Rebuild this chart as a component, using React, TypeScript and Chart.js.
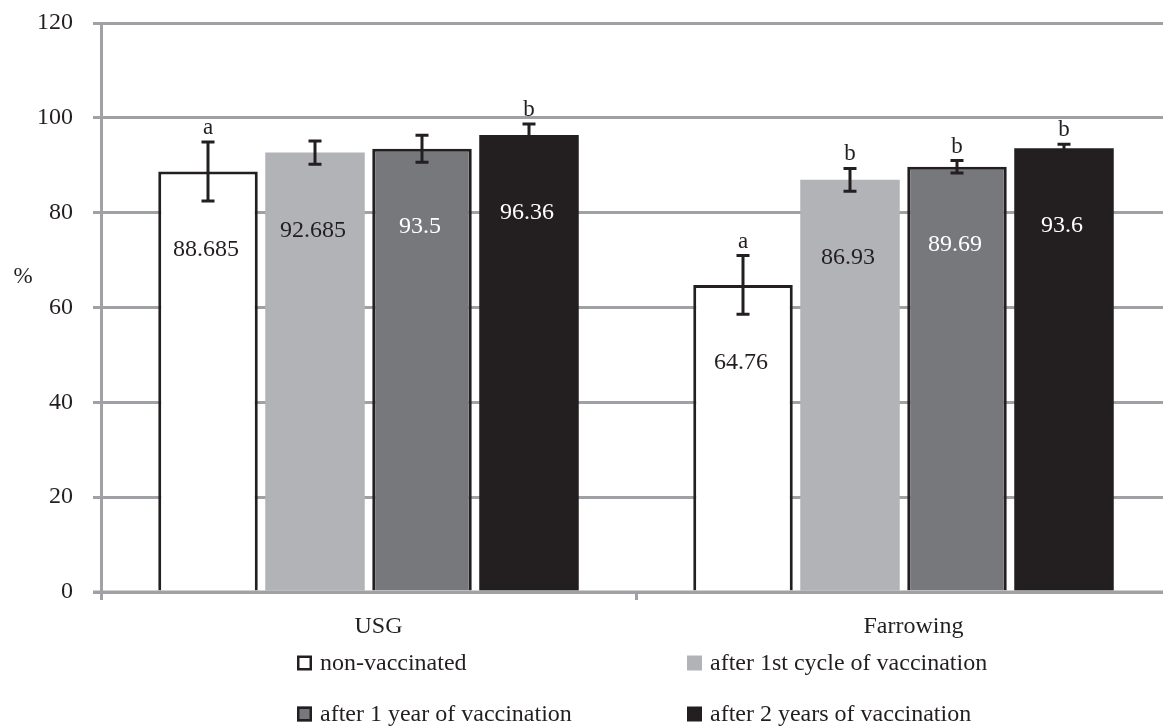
import React, { useEffect, useRef } from "react";
import { Chart, registerables } from "chart.js";

Chart.register(...registerables);

const categories = ["USG", "Farrowing"];
const seriesLabels = [
  "non-vaccinated",
  "after 1st cycle of vaccination",
  "after 1 year of vaccination",
  "after 2 years of vaccination",
];
const nonVaccinated = [88.685, 64.76];
const after1stCycle = [92.685, 86.93];
const after1Year = [93.5, 89.69];
const after2Years = [96.36, 93.6];

const errNonVaccinated = [6.2, 6.2];
const errAfter1stCycle = [2.45, 2.4];
const errAfter1Year = [2.85, 1.3];
const errAfter2Years = [2.35, 0.85];

const sigNonVaccinated = ["a", "a"];
const sigAfter1stCycle = ["", "b"];
const sigAfter1Year = ["", "b"];
const sigAfter2Years = ["b", "b"];

const yMin = 0;
const yMax = 120;
const yStep = 20;

const INK = "#231f20";
const GRID = "#a0a1a4";
const FONT = "'Liberation Serif', 'Times New Roman', serif";

const fills = ["#ffffff", "#b2b3b7", "#77787c", INK];
const borders = [INK, "#b2b3b7", INK, INK];
const borderWidths = [3, 0, 3, 0];
const labelColors = [INK, INK, "#ffffff", "#ffffff"];

const values = [nonVaccinated, after1stCycle, after1Year, after2Years];
const errors = [errNonVaccinated, errAfter1stCycle, errAfter1Year, errAfter2Years];
const sigs = [sigNonVaccinated, sigAfter1stCycle, sigAfter1Year, sigAfter2Years];

const overlayPlugin = {
  id: "overlay",
  afterDatasetsDraw(chart: any) {
    const ctx = chart.ctx;
    const y = chart.scales.y;
    const area = chart.chartArea;
    ctx.save();
    ctx.strokeStyle = GRID;
    ctx.lineWidth = 3;
    ctx.beginPath();
    ctx.moveTo(area.left - 8, y.getPixelForValue(0));
    ctx.lineTo(area.right, y.getPixelForValue(0));
    ctx.stroke();

    chart.data.datasets.forEach((ds: any, i: number) => {
      const meta = chart.getDatasetMeta(i);
      meta.data.forEach((el: any, j: number) => {
        const v = values[i][j];
        const e = errors[i][j];
        const x = el.x;
        ctx.fillStyle = labelColors[i];
        ctx.font = `24px ${FONT}`;
        ctx.textAlign = "center";
        ctx.textBaseline = "middle";
        ctx.fillText(String(v), x - 2, el.y + 78);
        const yt = y.getPixelForValue(v + e);
        const yb = y.getPixelForValue(v - e);
        ctx.strokeStyle = INK;
        ctx.lineWidth = 3;
        ctx.beginPath();
        ctx.moveTo(x, yt);
        ctx.lineTo(x, yb);
        ctx.moveTo(x - 6.5, yt);
        ctx.lineTo(x + 6.5, yt);
        ctx.moveTo(x - 6.5, yb);
        ctx.lineTo(x + 6.5, yb);
        ctx.stroke();
        const s = sigs[i][j];
        if (s) {
          ctx.fillStyle = INK;
          ctx.font = `23px ${FONT}`;
          ctx.textAlign = "center";
          ctx.textBaseline = "alphabetic";
          ctx.fillText(s, x, yt - 8);
        }
      });
    });
    ctx.restore();
  },
  afterDraw(chart: any) {
    const ctx = chart.ctx;
    ctx.save();
    ctx.fillStyle = INK;
    ctx.font = `23px ${FONT}`;
    ctx.textAlign = "center";
    ctx.textBaseline = "middle";
    ctx.fillText("%", 23, 277);
    const cols = [297, 687];
    const rows = [663, 714];
    chart.data.datasets.forEach((ds: any, i: number) => {
      const cx = cols[i % 2];
      const cy = rows[Math.floor(i / 2)];
      const size = 15;
      ctx.fillStyle = fills[i];
      ctx.fillRect(cx, cy - size / 2, size, size);
      if (borderWidths[i] > 0) {
        ctx.strokeStyle = INK;
        ctx.lineWidth = 2.5;
        ctx.strokeRect(cx + 1.25, cy - size / 2 + 1.25, size - 2.5, size - 2.5);
      }
      ctx.fillStyle = INK;
      ctx.font = `24px ${FONT}`;
      ctx.textAlign = "left";
      ctx.textBaseline = "middle";
      ctx.fillText(ds.label, cx + 23, cy + 1);
    });
    ctx.restore();
  },
};

export default function App() {
  const ref = useRef<HTMLCanvasElement | null>(null);
  useEffect(() => {
    if (!ref.current) return;
    const chart = new Chart(ref.current, {
      type: "bar",
      data: {
        labels: categories,
        datasets: values.map((vals, i) => ({
          label: seriesLabels[i],
          data: vals,
          backgroundColor: fills[i],
          borderColor: borders[i],
          borderWidth: borderWidths[i],
          borderSkipped: "start",
          categoryPercentage: 0.8,
          barPercentage: 0.93,
        })),
      },
      options: {
        animation: false,
        responsive: false,
        devicePixelRatio: 1,
        layout: { padding: { top: 23, left: 0, right: 4, bottom: 84 } },
        plugins: { legend: { display: false }, tooltip: { enabled: false } },
        scales: {
          x: {
            offset: true,
            grid: {
              offset: true,
              drawOnChartArea: false,
              drawTicks: true,
              tickLength: 8,
              color: GRID,
              lineWidth: 3,
            },
            border: { color: GRID, width: 3 },
            ticks: {
              color: INK,
              font: { family: FONT, size: 24 },
              padding: 12,
              labelOffset: 10,
            },
            afterFit(s: any) {
              s.height = 50;
              s.paddingLeft = 0;
              s.paddingRight = 0;
            },
          },
          y: {
            min: yMin,
            max: yMax,
            grid: { color: GRID, lineWidth: 3, tickLength: 8 },
            border: { color: GRID, width: 3 },
            ticks: {
              stepSize: yStep,
              color: INK,
              font: { family: FONT, size: 24 },
              padding: 20,
            },
            afterFit(s: any) {
              s.width = 101;
              s.paddingTop = 0;
              s.paddingBottom = 0;
            },
          },
        },
      },
      plugins: [overlayPlugin],
    } as any);
    return () => chart.destroy();
  }, []);
  return (
    <div
      style={{
        position: "fixed",
        left: 0,
        top: 0,
        width: 1163,
        height: 726,
        overflow: "hidden",
        background: "#ffffff",
      }}
    >
      <canvas ref={ref} width={1175} height={726} style={{ width: 1175, height: 726, display: "block" }} />
    </div>
  );
}
